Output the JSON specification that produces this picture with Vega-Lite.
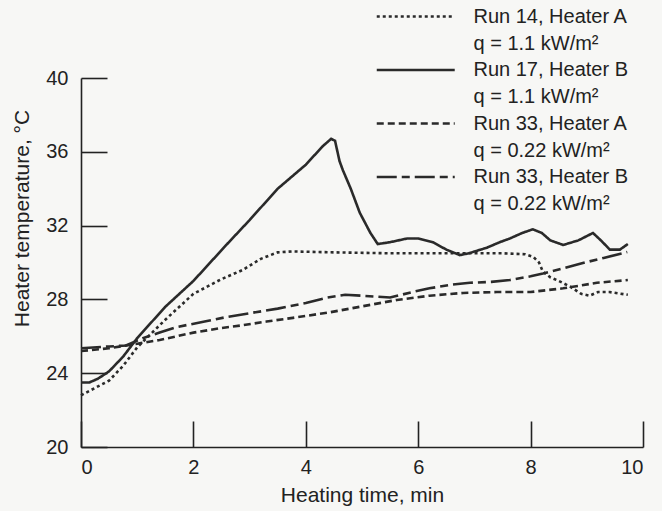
{
  "$schema": "https://vega.github.io/schema/vega-lite/v6.json",
  "width": 562,
  "height": 369,
  "autosize": "none",
  "padding": {"left": 81, "top": 78, "right": 19, "bottom": 64},
  "background": "#f7f7f5",
  "config": {
    "view": {"stroke": null},
    "font": "Liberation Sans",
    "axis": {
      "grid": false,
      "domainColor": "#222222",
      "domainWidth": 1.6,
      "tickColor": "#222222",
      "tickWidth": 1.6,
      "tickSize": -26,
      "labelFont": "Liberation Sans",
      "labelFontSize": 20,
      "labelColor": "#222222",
      "titleFont": "Liberation Sans",
      "titleFontSize": 21,
      "titleFontWeight": "normal",
      "titleColor": "#222222"
    }
  },
  "data": {
    "values": [
      {"s": "Run 14, Heater A|q = 1.1 kW/m²", "t": 0, "T": 22.8},
      {"s": "Run 14, Heater A|q = 1.1 kW/m²", "t": 0.25, "T": 23.2},
      {"s": "Run 14, Heater A|q = 1.1 kW/m²", "t": 0.5, "T": 23.6},
      {"s": "Run 14, Heater A|q = 1.1 kW/m²", "t": 0.75, "T": 24.4},
      {"s": "Run 14, Heater A|q = 1.1 kW/m²", "t": 1.0, "T": 25.4},
      {"s": "Run 14, Heater A|q = 1.1 kW/m²", "t": 1.5, "T": 26.9},
      {"s": "Run 14, Heater A|q = 1.1 kW/m²", "t": 2.0, "T": 28.3},
      {"s": "Run 14, Heater A|q = 1.1 kW/m²", "t": 2.5, "T": 29.1},
      {"s": "Run 14, Heater A|q = 1.1 kW/m²", "t": 2.88, "T": 29.6},
      {"s": "Run 14, Heater A|q = 1.1 kW/m²", "t": 3.2, "T": 30.2},
      {"s": "Run 14, Heater A|q = 1.1 kW/m²", "t": 3.5, "T": 30.55},
      {"s": "Run 14, Heater A|q = 1.1 kW/m²", "t": 3.75, "T": 30.6},
      {"s": "Run 14, Heater A|q = 1.1 kW/m²", "t": 4.5, "T": 30.55},
      {"s": "Run 14, Heater A|q = 1.1 kW/m²", "t": 5.5, "T": 30.5},
      {"s": "Run 14, Heater A|q = 1.1 kW/m²", "t": 6.5, "T": 30.5},
      {"s": "Run 14, Heater A|q = 1.1 kW/m²", "t": 7.5, "T": 30.5},
      {"s": "Run 14, Heater A|q = 1.1 kW/m²", "t": 7.9, "T": 30.45},
      {"s": "Run 14, Heater A|q = 1.1 kW/m²", "t": 8.05, "T": 30.3},
      {"s": "Run 14, Heater A|q = 1.1 kW/m²", "t": 8.15, "T": 30.0},
      {"s": "Run 14, Heater A|q = 1.1 kW/m²", "t": 8.22, "T": 29.5},
      {"s": "Run 14, Heater A|q = 1.1 kW/m²", "t": 8.35, "T": 29.2},
      {"s": "Run 14, Heater A|q = 1.1 kW/m²", "t": 8.5, "T": 29.0},
      {"s": "Run 14, Heater A|q = 1.1 kW/m²", "t": 8.7, "T": 28.7},
      {"s": "Run 14, Heater A|q = 1.1 kW/m²", "t": 8.9, "T": 28.3},
      {"s": "Run 14, Heater A|q = 1.1 kW/m²", "t": 9.05, "T": 28.2},
      {"s": "Run 14, Heater A|q = 1.1 kW/m²", "t": 9.2, "T": 28.4},
      {"s": "Run 14, Heater A|q = 1.1 kW/m²", "t": 9.4, "T": 28.4},
      {"s": "Run 14, Heater A|q = 1.1 kW/m²", "t": 9.73, "T": 28.25},

      {"s": "Run 17, Heater B|q = 1.1 kW/m²", "t": 0, "T": 23.5},
      {"s": "Run 17, Heater B|q = 1.1 kW/m²", "t": 0.15, "T": 23.5},
      {"s": "Run 17, Heater B|q = 1.1 kW/m²", "t": 0.3, "T": 23.7},
      {"s": "Run 17, Heater B|q = 1.1 kW/m²", "t": 0.5, "T": 24.1},
      {"s": "Run 17, Heater B|q = 1.1 kW/m²", "t": 0.75, "T": 24.9},
      {"s": "Run 17, Heater B|q = 1.1 kW/m²", "t": 1.0, "T": 25.9},
      {"s": "Run 17, Heater B|q = 1.1 kW/m²", "t": 1.5, "T": 27.6},
      {"s": "Run 17, Heater B|q = 1.1 kW/m²", "t": 2.0, "T": 29.0},
      {"s": "Run 17, Heater B|q = 1.1 kW/m²", "t": 2.6, "T": 31.0},
      {"s": "Run 17, Heater B|q = 1.1 kW/m²", "t": 3.0, "T": 32.3},
      {"s": "Run 17, Heater B|q = 1.1 kW/m²", "t": 3.5, "T": 34.0},
      {"s": "Run 17, Heater B|q = 1.1 kW/m²", "t": 4.0, "T": 35.3},
      {"s": "Run 17, Heater B|q = 1.1 kW/m²", "t": 4.3, "T": 36.3},
      {"s": "Run 17, Heater B|q = 1.1 kW/m²", "t": 4.45, "T": 36.7},
      {"s": "Run 17, Heater B|q = 1.1 kW/m²", "t": 4.52, "T": 36.6},
      {"s": "Run 17, Heater B|q = 1.1 kW/m²", "t": 4.6, "T": 35.5},
      {"s": "Run 17, Heater B|q = 1.1 kW/m²", "t": 4.66, "T": 35.0},
      {"s": "Run 17, Heater B|q = 1.1 kW/m²", "t": 4.8, "T": 34.0},
      {"s": "Run 17, Heater B|q = 1.1 kW/m²", "t": 4.96, "T": 32.7},
      {"s": "Run 17, Heater B|q = 1.1 kW/m²", "t": 5.15, "T": 31.6},
      {"s": "Run 17, Heater B|q = 1.1 kW/m²", "t": 5.28, "T": 31.0},
      {"s": "Run 17, Heater B|q = 1.1 kW/m²", "t": 5.5, "T": 31.1},
      {"s": "Run 17, Heater B|q = 1.1 kW/m²", "t": 5.8, "T": 31.3},
      {"s": "Run 17, Heater B|q = 1.1 kW/m²", "t": 6.0, "T": 31.3},
      {"s": "Run 17, Heater B|q = 1.1 kW/m²", "t": 6.26, "T": 31.1},
      {"s": "Run 17, Heater B|q = 1.1 kW/m²", "t": 6.5, "T": 30.7},
      {"s": "Run 17, Heater B|q = 1.1 kW/m²", "t": 6.74, "T": 30.4},
      {"s": "Run 17, Heater B|q = 1.1 kW/m²", "t": 6.9, "T": 30.5},
      {"s": "Run 17, Heater B|q = 1.1 kW/m²", "t": 7.22, "T": 30.8},
      {"s": "Run 17, Heater B|q = 1.1 kW/m²", "t": 7.45, "T": 31.1},
      {"s": "Run 17, Heater B|q = 1.1 kW/m²", "t": 7.63, "T": 31.3},
      {"s": "Run 17, Heater B|q = 1.1 kW/m²", "t": 7.85, "T": 31.6},
      {"s": "Run 17, Heater B|q = 1.1 kW/m²", "t": 8.04, "T": 31.8},
      {"s": "Run 17, Heater B|q = 1.1 kW/m²", "t": 8.2, "T": 31.6},
      {"s": "Run 17, Heater B|q = 1.1 kW/m²", "t": 8.35, "T": 31.2},
      {"s": "Run 17, Heater B|q = 1.1 kW/m²", "t": 8.58, "T": 30.95},
      {"s": "Run 17, Heater B|q = 1.1 kW/m²", "t": 8.85, "T": 31.2},
      {"s": "Run 17, Heater B|q = 1.1 kW/m²", "t": 9.11, "T": 31.6},
      {"s": "Run 17, Heater B|q = 1.1 kW/m²", "t": 9.25, "T": 31.2},
      {"s": "Run 17, Heater B|q = 1.1 kW/m²", "t": 9.41, "T": 30.7},
      {"s": "Run 17, Heater B|q = 1.1 kW/m²", "t": 9.59, "T": 30.7},
      {"s": "Run 17, Heater B|q = 1.1 kW/m²", "t": 9.73, "T": 31.0},

      {"s": "Run 33, Heater A|q = 0.22 kW/m²", "t": 0, "T": 25.2},
      {"s": "Run 33, Heater A|q = 0.22 kW/m²", "t": 0.5, "T": 25.35},
      {"s": "Run 33, Heater A|q = 0.22 kW/m²", "t": 1.0, "T": 25.6},
      {"s": "Run 33, Heater A|q = 0.22 kW/m²", "t": 1.4, "T": 25.8},
      {"s": "Run 33, Heater A|q = 0.22 kW/m²", "t": 2.0, "T": 26.2},
      {"s": "Run 33, Heater A|q = 0.22 kW/m²", "t": 2.5, "T": 26.45},
      {"s": "Run 33, Heater A|q = 0.22 kW/m²", "t": 2.88, "T": 26.6},
      {"s": "Run 33, Heater A|q = 0.22 kW/m²", "t": 3.3, "T": 26.8},
      {"s": "Run 33, Heater A|q = 0.22 kW/m²", "t": 3.77, "T": 27.0},
      {"s": "Run 33, Heater A|q = 0.22 kW/m²", "t": 4.43, "T": 27.3},
      {"s": "Run 33, Heater A|q = 0.22 kW/m²", "t": 4.96, "T": 27.6},
      {"s": "Run 33, Heater A|q = 0.22 kW/m²", "t": 5.62, "T": 27.97},
      {"s": "Run 33, Heater A|q = 0.22 kW/m²", "t": 6.2, "T": 28.2},
      {"s": "Run 33, Heater A|q = 0.22 kW/m²", "t": 6.8, "T": 28.35},
      {"s": "Run 33, Heater A|q = 0.22 kW/m²", "t": 7.4, "T": 28.4},
      {"s": "Run 33, Heater A|q = 0.22 kW/m²", "t": 8.0, "T": 28.4},
      {"s": "Run 33, Heater A|q = 0.22 kW/m²", "t": 8.58, "T": 28.6},
      {"s": "Run 33, Heater A|q = 0.22 kW/m²", "t": 9.18, "T": 28.9},
      {"s": "Run 33, Heater A|q = 0.22 kW/m²", "t": 9.73, "T": 29.05},

      {"s": "Run 33, Heater B|q = 0.22 kW/m²", "t": 0, "T": 25.35},
      {"s": "Run 33, Heater B|q = 0.22 kW/m²", "t": 0.5, "T": 25.45},
      {"s": "Run 33, Heater B|q = 0.22 kW/m²", "t": 0.8, "T": 25.5},
      {"s": "Run 33, Heater B|q = 0.22 kW/m²", "t": 1.1, "T": 25.9},
      {"s": "Run 33, Heater B|q = 0.22 kW/m²", "t": 1.4, "T": 26.2},
      {"s": "Run 33, Heater B|q = 0.22 kW/m²", "t": 1.7, "T": 26.5},
      {"s": "Run 33, Heater B|q = 0.22 kW/m²", "t": 2.2, "T": 26.8},
      {"s": "Run 33, Heater B|q = 0.22 kW/m²", "t": 2.6, "T": 27.05},
      {"s": "Run 33, Heater B|q = 0.22 kW/m²", "t": 3.0, "T": 27.25},
      {"s": "Run 33, Heater B|q = 0.22 kW/m²", "t": 3.5, "T": 27.5},
      {"s": "Run 33, Heater B|q = 0.22 kW/m²", "t": 4.0, "T": 27.8},
      {"s": "Run 33, Heater B|q = 0.22 kW/m²", "t": 4.38, "T": 28.1},
      {"s": "Run 33, Heater B|q = 0.22 kW/m²", "t": 4.7, "T": 28.25},
      {"s": "Run 33, Heater B|q = 0.22 kW/m²", "t": 5.0, "T": 28.2},
      {"s": "Run 33, Heater B|q = 0.22 kW/m²", "t": 5.5, "T": 28.1},
      {"s": "Run 33, Heater B|q = 0.22 kW/m²", "t": 5.9, "T": 28.4},
      {"s": "Run 33, Heater B|q = 0.22 kW/m²", "t": 6.2, "T": 28.6},
      {"s": "Run 33, Heater B|q = 0.22 kW/m²", "t": 6.6, "T": 28.8},
      {"s": "Run 33, Heater B|q = 0.22 kW/m²", "t": 6.92, "T": 28.9},
      {"s": "Run 33, Heater B|q = 0.22 kW/m²", "t": 7.3, "T": 28.95},
      {"s": "Run 33, Heater B|q = 0.22 kW/m²", "t": 7.63, "T": 29.05},
      {"s": "Run 33, Heater B|q = 0.22 kW/m²", "t": 8.0, "T": 29.25},
      {"s": "Run 33, Heater B|q = 0.22 kW/m²", "t": 8.22, "T": 29.4},
      {"s": "Run 33, Heater B|q = 0.22 kW/m²", "t": 8.6, "T": 29.7},
      {"s": "Run 33, Heater B|q = 0.22 kW/m²", "t": 8.93, "T": 29.97},
      {"s": "Run 33, Heater B|q = 0.22 kW/m²", "t": 9.3, "T": 30.25},
      {"s": "Run 33, Heater B|q = 0.22 kW/m²", "t": 9.72, "T": 30.57}
    ]
  },
  "mark": {"type": "line", "strokeWidth": 2.6, "color": "#2a2a2a", "strokeCap": "butt"},
  "encoding": {
    "x": {
      "field": "t",
      "type": "quantitative",
      "scale": {"domain": [0, 10], "nice": false, "zero": false},
      "axis": {
        "values": [0, 2, 4, 6, 8, 10],
        "title": "Heating time, min",
        "labelPadding": 36,
        "titleY": 48,
        "titleBaseline": "middle"
      }
    },
    "y": {
      "field": "T",
      "type": "quantitative",
      "scale": {"domain": [20, 40], "nice": false, "zero": false},
      "axis": {
        "values": [20, 24, 28, 32, 36, 40],
        "title": "Heater temperature, °C",
        "labelPadding": 39,
        "titleX": -59,
        "titleY": 140,
        "titleBaseline": "middle"
      }
    },
    "strokeDash": {
      "field": "s",
      "type": "nominal",
      "scale": {
        "domain": ["Run 14, Heater A|q = 1.1 kW/m²", "Run 17, Heater B|q = 1.1 kW/m²", "Run 33, Heater A|q = 0.22 kW/m²", "Run 33, Heater B|q = 0.22 kW/m²"],
        "range": [[3, 3], [1, 0], [7, 4], [20, 5, 8, 5]]
      },
      "legend": {
        "title": null,
        "orient": "none",
        "legendX": 294,
        "legendY": -73,
        "padding": 0,
        "symbolType": "M-1,0H7",
        "symbolSize": 380,
        "symbolStrokeWidth": 2.6,
        "symbolStrokeColor": "#2a2a2a",
        "labelOffset": 75.5,
        "labelFont": "Liberation Sans",
        "labelFontSize": 20,
        "labelColor": "#222222",
        "labelLimit": 400,
        "labelBaseline": "middle",
        "labelExpr": "split(datum.label, '|')",
        "rowPadding": 4.5,
        "encode": {"labels": {"update": {"lineHeight": {"value": 27}}}}
      }
    }
  }
}
